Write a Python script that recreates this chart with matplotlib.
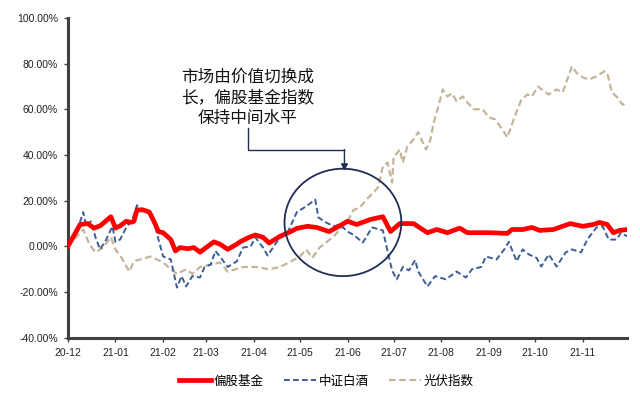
import matplotlib
matplotlib.use("Agg")
import matplotlib.pyplot as plt
import matplotlib.dates as mdates
from matplotlib.patches import Ellipse
from matplotlib.ticker import FuncFormatter
import pandas as pd

plt.rcParams["font.family"] = ["Liberation Sans", "Noto Sans CJK SC"]

# 偏股基金 (%)
fund_dates = [
    "2020-12-01", "2020-12-09", "2020-12-14", "2020-12-18", "2020-12-22", "2020-12-29",
    "2021-01-01", "2021-01-04", "2021-01-08", "2021-01-11", "2021-01-13", "2021-01-15",
    "2021-01-19", "2021-01-23", "2021-01-26", "2021-01-29", "2021-02-01", "2021-02-06",
    "2021-02-09", "2021-02-12", "2021-02-17", "2021-02-21", "2021-02-25", "2021-03-02",
    "2021-03-06", "2021-03-10", "2021-03-15", "2021-03-21", "2021-03-23", "2021-03-29",
    "2021-04-02", "2021-04-07", "2021-04-11", "2021-04-18", "2021-04-25", "2021-04-29",
    "2021-05-06", "2021-05-12", "2021-05-20", "2021-05-25", "2021-06-01", "2021-06-07",
    "2021-06-16", "2021-06-24", "2021-06-29", "2021-07-05", "2021-07-14", "2021-07-23",
    "2021-07-29", "2021-08-05", "2021-08-13", "2021-08-18", "2021-08-24", "2021-09-02",
    "2021-09-13", "2021-09-16", "2021-09-23", "2021-09-29", "2021-10-04", "2021-10-13",
    "2021-10-24", "2021-11-01", "2021-11-08", "2021-11-12", "2021-11-17", "2021-11-21",
    "2021-11-25", "2021-11-30",
]
fund_vals = [
    0, 9.6, 10, 8, 9, 13,
    8, 9, 11, 10.5, 11, 16,
    16, 15, 11, 6.5, 6, 3,
    -2, -0.5, -1, -0.5, -2.5, 0,
    2, 1, -1.3, 1, 2, 4,
    5, 4, 1.5, 4.4, 6.5, 7.9,
    8.8, 8.3, 6.5, 8.3, 11, 9.6,
    11.8, 13, 6.5, 10, 10, 6,
    7.4, 6, 8, 6, 6, 6,
    5.7, 7.4, 7.4, 8.3, 7, 7.4,
    10, 8.8, 9.6, 10.5, 9.6, 6,
    7, 7.4,
]

# 中证白酒 (%)
liquor_dates = [
    "2020-12-01", "2020-12-08", "2020-12-11", "2020-12-13", "2020-12-16", "2020-12-19",
    "2020-12-22", "2020-12-26", "2020-12-30", "2021-01-01", "2021-01-04", "2021-01-08",
    "2021-01-12", "2021-01-15", "2021-01-19", "2021-01-25", "2021-01-29", "2021-02-01",
    "2021-02-06", "2021-02-10", "2021-02-13", "2021-02-16", "2021-02-20", "2021-02-25",
    "2021-02-28", "2021-03-04", "2021-03-07", "2021-03-10", "2021-03-15", "2021-03-21",
    "2021-03-25", "2021-03-30", "2021-04-02", "2021-04-07", "2021-04-10", "2021-04-17",
    "2021-04-23", "2021-04-29", "2021-05-05", "2021-05-11", "2021-05-13", "2021-05-18",
    "2021-05-23", "2021-05-27", "2021-06-01", "2021-06-05", "2021-06-11", "2021-06-17",
    "2021-06-24", "2021-06-27", "2021-06-30", "2021-07-03", "2021-07-07", "2021-07-11",
    "2021-07-15", "2021-07-17", "2021-07-23", "2021-07-28", "2021-08-04", "2021-08-11",
    "2021-08-17", "2021-08-21", "2021-08-27", "2021-08-30", "2021-09-06", "2021-09-11",
    "2021-09-14", "2021-09-19", "2021-09-23", "2021-09-27", "2021-10-02", "2021-10-05",
    "2021-10-10", "2021-10-15", "2021-10-21", "2021-10-25", "2021-10-31", "2021-11-04",
    "2021-11-10", "2021-11-14", "2021-11-18", "2021-11-23", "2021-11-26", "2021-11-30",
]
liquor_vals = [
    0, 8.8, 15, 8.8, 11, 4,
    -1.3, 3, 8.8, 2, 3, 8.3,
    11.8, 18, 16, 14, 3, -4.4,
    -5.7, -18, -13, -17.5, -13, -13.6,
    -9, -7.9, -2, -4.4, -9, -6.5,
    -0.5, 0, 4, -0.5, -4, 3,
    6, 15, 17.5, 20.5, 12.7, 10.5,
    8.8, 9.6, 6.5, 5, 1.7, 8.3,
    7, -2, -10.5, -14.4, -9, -10.5,
    -6, -11, -17.5, -13, -14.4, -11,
    -13.6, -10, -9, -4.4, -5.7, -1.3,
    2, -6.5, -1.3, -3.5, -5, -8.8,
    -3.5, -8.8, -2.6, -1.3, -2.6, 3,
    8.3, 8.8, 3, 3, 6, 4.4,
]

# 光伏指数 (%)
solar_dates = [
    "2020-12-01", "2020-12-07", "2020-12-11", "2020-12-15", "2020-12-19", "2020-12-24",
    "2020-12-29", "2021-01-01", "2021-01-05", "2021-01-10", "2021-01-13", "2021-01-17",
    "2021-01-24", "2021-01-28", "2021-02-01", "2021-02-06", "2021-02-10", "2021-02-16",
    "2021-02-20", "2021-02-25", "2021-03-04", "2021-03-10", "2021-03-15", "2021-03-20",
    "2021-03-25", "2021-04-03", "2021-04-11", "2021-04-18", "2021-04-24", "2021-05-01",
    "2021-05-05", "2021-05-09", "2021-05-14", "2021-05-18", "2021-05-23", "2021-05-27",
    "2021-06-01", "2021-06-05", "2021-06-09", "2021-06-14", "2021-06-18", "2021-06-21",
    "2021-06-24", "2021-06-27", "2021-06-30", "2021-07-01", "2021-07-05", "2021-07-07",
    "2021-07-10", "2021-07-14", "2021-07-17", "2021-07-22", "2021-07-25", "2021-07-27",
    "2021-07-30", "2021-08-02", "2021-08-05", "2021-08-08", "2021-08-11", "2021-08-15",
    "2021-08-18", "2021-08-22", "2021-08-28", "2021-09-01", "2021-09-05", "2021-09-10",
    "2021-09-13", "2021-09-16", "2021-09-19", "2021-09-22", "2021-09-26", "2021-09-29",
    "2021-10-03", "2021-10-07", "2021-10-10", "2021-10-15", "2021-10-19", "2021-10-25",
    "2021-10-28", "2021-11-01", "2021-11-05", "2021-11-10", "2021-11-15", "2021-11-17",
    "2021-11-20", "2021-11-23", "2021-11-27", "2021-11-30",
]
solar_vals = [
    0, 4.4, 7.4, 1, -2.6, -0.4,
    4, -1.3, -5, -11, -6.5, -5.7,
    -4.4, -5.7, -7, -10, -12, -10,
    -12, -9, -8, -7, -11, -10,
    -9, -9, -10, -9, -7, -4.4,
    -1.3, -5, -0.4, 1.7, 4.4, 7.4,
    11, 16, 17, 21, 23.6, 26,
    35, 36.7, 28, 39, 42.4, 36.7,
    43.8, 46.8, 50, 42.4, 46.8, 54,
    61, 68.7, 65.6, 67, 63.5, 65.6,
    63, 60, 60, 56.4, 55.6, 51,
    47.7, 53.4, 59, 64, 66.5, 65.6,
    70, 67.8, 66.5, 68.7, 67.4, 78.8,
    76, 74, 73, 74.4, 76.6, 76,
    67.4, 65.6, 62, 63,
]

month_ticks = pd.date_range("2020-12-01", "2021-11-01", freq="MS")
y_ticks = [-40, -20, 0, 20, 40, 60, 80, 100]

navy = "#1F2D55"
axis_col = "#404040"

fig = plt.figure(figsize=(6.4, 3.97), dpi=100)
ax = fig.add_axes([0.106, 0.149, 0.874, 0.806])

ax.plot(pd.to_datetime(solar_dates), solar_vals, color="#C4B49A", lw=1.6,
        linestyle=(0, (3, 1.6)), label="光伏指数", zorder=2)
ax.plot(pd.to_datetime(liquor_dates), liquor_vals, color="#3B5E96", lw=1.4,
        linestyle=(0, (3, 1.6)), label="中证白酒", zorder=3)
ax.plot(pd.to_datetime(fund_dates), fund_vals, color="#FF0000", lw=3.4,
        label="偏股基金", zorder=4)

ax.set_xlim(pd.Timestamp("2020-12-01"), pd.Timestamp("2021-11-30"))
ax.set_ylim(-40, 100)
ax.set_yticks(y_ticks)
ax.yaxis.set_major_formatter(FuncFormatter(lambda v, p: f"{v:.2f}%"))
ax.set_xticks(month_ticks)
ax.xaxis.set_major_formatter(mdates.DateFormatter("%y-%m"))

for side in ["top", "right"]:
    ax.spines[side].set_visible(False)
for side in ["left", "bottom"]:
    ax.spines[side].set_linewidth(2.2)
    ax.spines[side].set_color(axis_col)
ax.tick_params(axis="both", length=3, width=1, color=axis_col,
               labelsize=7.5, labelcolor="#222222", pad=4)

# ellipse highlighting May-June
cx = mdates.date2num(pd.Timestamp("2021-05-29"))
ax.add_patch(Ellipse((cx, 10.5), width=76, height=47, fill=False,
                     edgecolor=navy, lw=1.3, zorder=5))

# callout text + elbow arrow
tx = mdates.date2num(pd.Timestamp("2021-03-28"))
ax_x = mdates.date2num(pd.Timestamp("2021-05-30"))
ax.text(tx, 65, "市场由价值切换成\n长，偏股基金指数\n保持中间水平",
        ha="center", va="center", fontsize=12, linespacing=1.25,
        family=["Noto Sans CJK SC", "DejaVu Sans"], color="#111111")
ax.plot([tx, tx, ax_x], [52, 42.4, 42.4], color=navy, lw=1, zorder=5)
ax.annotate("", xy=(ax_x, 33), xytext=(ax_x, 42.4),
            arrowprops=dict(arrowstyle="-|>", color=navy, lw=1,
                            mutation_scale=10, shrinkA=0, shrinkB=0))

handles, labels = ax.get_legend_handles_labels()
order = [2, 1, 0]
fig.legend([handles[i] for i in order], [labels[i] for i in order],
           loc="center", bbox_to_anchor=(0.51, 0.04), ncol=3, frameon=False,
           handlelength=2.6, handletextpad=0.2, columnspacing=1.6,
           prop={"family": ["Noto Sans CJK SC", "DejaVu Sans"], "size": 9})

fig.savefig("out.png", dpi=100, facecolor="white")
